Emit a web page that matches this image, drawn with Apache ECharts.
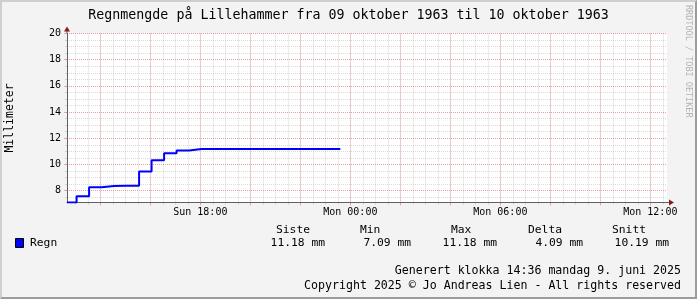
<!DOCTYPE html>
<html>
<head>
<meta charset="utf-8">
<script src="https://cdn.jsdelivr.net/npm/echarts@6/dist/echarts.min.js"></script>
<style>
  html, body { margin: 0; padding: 0; background: #f3f3f3; }
  #frame {
    position: relative; width: 697px; height: 299px; box-sizing: border-box;
    background: #f3f3f3; border-style: solid; border-width: 2px;
    border-color: #cfcfcf #9c9c9c #9c9c9c #cfcfcf;
  }
  #chart { position: absolute; left: -2px; top: -2px; width: 697px; height: 299px; }
</style>
</head>
<body>
<div id="frame"><div id="chart"></div></div>
<script>
// time in hours counted from Sunday 00:00
const hStart = 12 + 40 / 60;
const hEnd = hStart + 24;
const yMin = 7.09;
const yMax = 20;

// rain samples (value holds from its time until the next one)
const hours = [12.667, 13.05, 13.55, 14.05, 14.55, 15.05, 15.55, 16.05, 16.55, 17.05,
  17.55, 18.05, 18.55, 19.05, 19.55, 20.05, 20.55, 21.05, 21.55, 22.05, 22.55, 23.05, 23.55, 23.6];
const rain = [7.09, 7.56, 8.25, 8.35, 8.36, 8.36, 9.45, 10.32, 10.86, 11.06,
  11.18, 11.18, 11.18, 11.18, 11.18, 11.18, 11.18, 11.18, 11.18, 11.18, 11.18, 11.18, 11.18, 11.18];

const xLabelHours = [18, 24, 30, 36];
const xLabelNames = ['Sun 18:00', 'Mon 00:00', 'Mon 06:00', 'Mon 12:00'];
const yLabels = [8, 10, 12, 14, 16, 18, 20];

const statNames = ['Siste', 'Min', 'Max', 'Delta', 'Snitt'];
const statValues = ['11.18 mm', '7.09 mm', '11.18 mm', '4.09 mm', '10.19 mm'];

// grid positions
const xMajor = [], xMinor = [], yMinor = [];
for (let h = 14; h <= 36; h += 2) xMajor.push(h);
for (let h = 13; h <= 36.5; h += 0.5) xMinor.push(h);
for (let v = 7.5; v <= 20; v += 0.5) yMinor.push(v);

const mono = 'DejaVu Sans Mono';
const majorColor = 'rgba(235, 70, 70, 0.38)';
const minorColor = 'rgba(140, 140, 140, 0.32)';
const axisColor = '#606060';

const statX = [276, 360, 451, 528, 612];
const statRight = [325, 411, 497, 583, 669];

const graphics = [
  { id: 'regnBox', type: 'rect', shape: { x: 15.5, y: 238.5, width: 8, height: 9 },
    style: { fill: '#0000ff', stroke: '#000', lineWidth: 1 } },
  { id: 'regnTxt', type: 'text', x: 30, y: 243.5,
    style: { text: 'Regn', font: '11.3px "DejaVu Sans Mono"', fill: '#000', verticalAlign: 'middle' } },
  { id: 'foot1', type: 'text', x: 681, y: 271,
    style: { text: 'Generert klokka 14:36 mandag 9. juni 2025', font: '11.6px "DejaVu Sans Mono"',
      fill: '#000', align: 'right', verticalAlign: 'middle' } },
  { id: 'foot2', type: 'text', x: 681, y: 285.5,
    style: { text: 'Copyright 2025 \u00a9 Jo Andreas Lien - All rights reserved', font: '11.6px "DejaVu Sans Mono"',
      fill: '#000', align: 'right', verticalAlign: 'middle' } },
  { id: 'mark', type: 'text', x: 688, y: 5, rotation: -Math.PI / 2,
    style: { text: 'RRDTOOL / TOBI OETIKER', font: '8.5px "DejaVu Sans Mono"',
      fill: '#b4b4b4', align: 'left', verticalAlign: 'middle' } }
];
statNames.forEach((n, i) => {
  graphics.push({ id: 'sn' + i, type: 'text', x: statX[i], y: 230,
    style: { text: n, font: '11.3px "DejaVu Sans Mono"', fill: '#000', verticalAlign: 'middle' } });
  graphics.push({ id: 'sv' + i, type: 'text', x: statRight[i], y: 243.5,
    style: { text: statValues[i], font: '11.3px "DejaVu Sans Mono"', fill: '#000', align: 'right', verticalAlign: 'middle' } });
});

const option = {
  animation: false,
  backgroundColor: 'transparent',
  title: {
    text: 'Regnmengde på Lillehammer fra 09 oktober 1963 til 10 oktober 1963',
    left: 'center',
    top: 4,
    textStyle: { fontFamily: mono, fontSize: 13.3, fontWeight: 'normal', color: '#000' }
  },
  grid: {
    left: 67, right: 30, top: 33.5, bottom: 96.5,
    outerBoundsMode: 'none',
    containLabel: false,
    show: true, backgroundColor: '#fff', borderWidth: 0
  },
  xAxis: [
    {
      type: 'value', min: hStart, max: hEnd, position: 'bottom', z: 1,
      axisLine: { show: true, onZero: false, lineStyle: { color: axisColor, width: 1 } },
      axisTick: { show: true, customValues: xMajor, length: 3, lineStyle: { color: majorColor } },
      axisLabel: {
        customValues: xLabelHours, margin: 5,
        fontFamily: mono, fontSize: 10, color: '#000',
        formatter: v => xLabelNames[xLabelHours.findIndex(h => Math.abs(h - v) < 1e-6)] || ''
      },
      splitLine: { show: true, lineStyle: { color: majorColor, type: [1, 1], width: 1 } }
    },
    {
      type: 'value', min: hStart, max: hEnd, position: 'bottom', z: 0,
      axisLine: { show: false },
      axisTick: { show: true, customValues: xMinor, length: 2, lineStyle: { color: minorColor } },
      axisLabel: { show: false },
      splitLine: { show: true, lineStyle: { color: minorColor, type: [1, 1], width: 1 } }
    }
  ],
  yAxis: [
    {
      type: 'value', min: yMin, max: yMax, position: 'left', z: 1,
      name: 'Millimeter', nameLocation: 'middle', nameRotate: 90, nameGap: 51,
      nameTextStyle: { fontFamily: mono, fontSize: 11.5, color: '#000' },
      axisLine: { show: true, onZero: false, lineStyle: { color: axisColor, width: 1 } },
      axisTick: { show: true, customValues: yLabels, length: 3, lineStyle: { color: majorColor } },
      axisLabel: { customValues: yLabels, margin: 6, fontFamily: mono, fontSize: 10, color: '#000' },
      splitLine: { show: true, lineStyle: { color: majorColor, type: [1, 1], width: 1 } }
    },
    {
      type: 'value', min: yMin, max: yMax, position: 'left', z: 0,
      axisLine: { show: false },
      axisTick: { show: true, customValues: yMinor, length: 2, lineStyle: { color: minorColor } },
      axisLabel: { show: false },
      splitLine: { show: true, lineStyle: { color: minorColor, type: [1, 1], width: 1 } }
    }
  ],
  graphic: graphics,
  series: [
    {
      name: 'Regn',
      type: 'line',
      step: 'end',
      xAxisIndex: 0,
      yAxisIndex: 0,
      showSymbol: false,
      z: 3,
      lineStyle: { color: '#0000ff', width: 2 },
      data: hours.map((h, i) => [h, rain[i]])
    }
  ]
};

const chart = echarts.init(document.getElementById('chart'), null, { renderer: 'canvas' });
chart.setOption(option);

// dark red arrow heads at the ends of both axes
const pTop = chart.convertToPixel({ gridIndex: 0 }, [hStart, yMax]);
const pRight = chart.convertToPixel({ gridIndex: 0 }, [hEnd, yMin]);
chart.setOption({
  graphic: [
    { id: 'upLine', type: 'line', shape: { x1: pTop[0], y1: pTop[1], x2: pTop[0], y2: pTop[1] - 3 },
      style: { stroke: axisColor, lineWidth: 1 } },
    { id: 'upArrow', type: 'polygon',
      shape: { points: [[pTop[0], pTop[1] - 7], [pTop[0] - 3, pTop[1] - 2], [pTop[0] + 3, pTop[1] - 2]] },
      style: { fill: '#8b1a1a' } },
    { id: 'rtLine', type: 'line', shape: { x1: pRight[0], y1: pRight[1], x2: pRight[0] + 3, y2: pRight[1] },
      style: { stroke: axisColor, lineWidth: 1 } },
    { id: 'rtArrow', type: 'polygon',
      shape: { points: [[pRight[0] + 7, pRight[1]], [pRight[0] + 2, pRight[1] - 3], [pRight[0] + 2, pRight[1] + 3]] },
      style: { fill: '#8b1a1a' } }
  ]
});
window.addEventListener('resize', () => chart.resize());
</script>
</body>
</html>
